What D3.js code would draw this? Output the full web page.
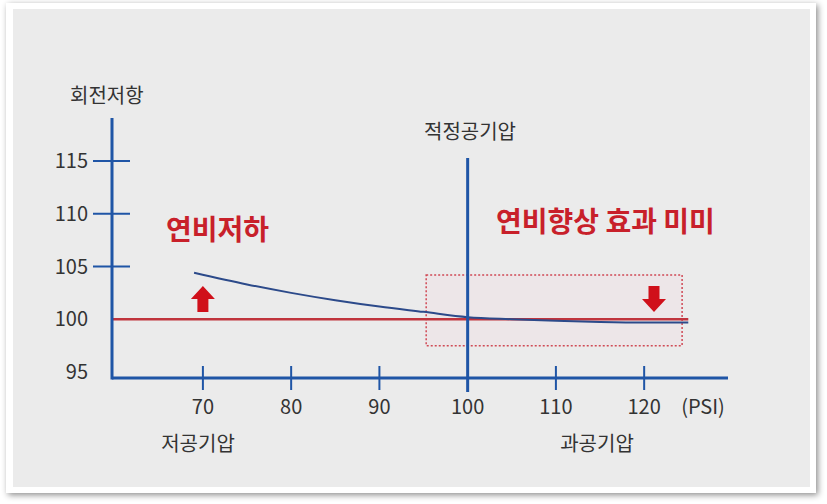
<!DOCTYPE html>
<html><head><meta charset="utf-8">
<script src="https://cdn.jsdelivr.net/npm/d3@7"></script>
<style>body{margin:0;background:#fff}svg{font-family:"Noto Sans CJK KR","Noto Sans",sans-serif}</style>
</head><body><svg></svg>
<script>
const yTicks = [95, 100, 105, 110, 115];
const xTicks = [70, 80, 90, 100, 110, 120];
const curveX = [69, 75, 80, 85, 90, 95, 100, 105, 110, 115, 120, 125];
const curveY = [104.4, 103.3, 102.5, 101.8, 101.2, 100.7, 100.2, 100.0, 99.85, 99.75, 99.7, 99.7];
const baseline = 100;
const optimal = 100;

const width = 827, height = 504;
const svg = d3.select("svg").attr("width", width).attr("height", height);
const blue = "#1f55a6", red = "#c8202a";

const defs = svg.append("defs");
const f = defs.append("filter").attr("id", "sh").attr("x", "-5%").attr("y", "-5%").attr("width", "110%").attr("height", "110%");
f.append("feDropShadow").attr("dx", 2).attr("dy", 2).attr("stdDeviation", 3).attr("flood-color", "#000").attr("flood-opacity", 0.45);
svg.append("rect").attr("x", 6).attr("y", 3).attr("width", 810).attr("height", 490).attr("fill", "#fff").attr("filter", "url(#sh)");
svg.append("rect").attr("x", 13).attr("y", 9).attr("width", 797).attr("height", 478).attr("fill", "#ebebeb");

const x = d3.scaleLinear().domain([59.7, 129.5]).range([112, 728]);
const y = d3.scaleLinear().domain([95, 115]).range([372, 161]);
const axisY = 378;

// highlight box
svg.append("rect").attr("x", x(95.3)).attr("y", y(104.2)).attr("width", x(124.3) - x(95.3)).attr("height", y(97.5) - y(104.2))
  .attr("fill", "#ede6e8").attr("stroke", "#d04a55").attr("stroke-width", 1.5).attr("stroke-dasharray", "2,2");

// y ticks
svg.selectAll(".yt").data(yTicks.filter(d => d !== 95 && d !== 100)).enter().append("line")
  .attr("x1", 93).attr("x2", 130).attr("y1", d => y(d)).attr("y2", d => y(d)).attr("stroke", blue).attr("stroke-width", 2);
svg.selectAll(".yl").data(yTicks).enter().append("text")
  .attr("x", 88).attr("y", d => y(d)).attr("dy", "0.35em").attr("text-anchor", "end")
  .attr("font-size", 20).attr("fill", "#333").text(d => d);

// x ticks
svg.selectAll(".xt").data(xTicks.filter(d => d !== optimal)).enter().append("line")
  .attr("x1", d => x(d)).attr("x2", d => x(d)).attr("y1", 366).attr("y2", 390).attr("stroke", blue).attr("stroke-width", 2);
svg.selectAll(".xl").data(xTicks).enter().append("text")
  .attr("x", d => x(d)).attr("y", 414).attr("text-anchor", "middle")
  .attr("font-size", 20).attr("fill", "#333").text(d => d);
svg.append("text").attr("x", 703).attr("y", 414).attr("text-anchor", "middle").attr("font-size", 20).attr("fill", "#333").text("(PSI)");

// baseline
svg.append("line").attr("x1", 112).attr("x2", x(125)).attr("y1", y(baseline)).attr("y2", y(baseline)).attr("stroke", "#c0343d").attr("stroke-width", 2.5);

// curve
svg.append("path").datum(curveX.map((d, i) => [d, curveY[i]]))
  .attr("d", d3.line().x(d => x(d[0])).y(d => y(d[1])).curve(d3.curveMonotoneX))
  .attr("fill", "none").attr("stroke", "#2c4a8a").attr("stroke-width", 2);

// axes
svg.append("line").attr("x1", 112).attr("x2", 112).attr("y1", 118).attr("y2", axisY + 1.5).attr("stroke", blue).attr("stroke-width", 3);
svg.append("line").attr("x1", 112).attr("x2", 728).attr("y1", axisY).attr("y2", axisY).attr("stroke", blue).attr("stroke-width", 3);
svg.append("line").attr("x1", x(optimal)).attr("x2", x(optimal)).attr("y1", 158).attr("y2", 392).attr("stroke", blue).attr("stroke-width", 3);

// arrows
const arrow = (cx, top, dir) => {
  const h = 26, w = 24, sw = 11, head = 13;
  const pts = [[0, 0], [w / 2, head], [sw / 2, head], [sw / 2, h], [-sw / 2, h], [-sw / 2, head], [-w / 2, head]];
  svg.append("polygon").attr("fill", "#d0101a")
    .attr("points", pts.map(p => [cx + p[0], dir > 0 ? top + p[1] : top + h - p[1]].join(",")).join(" "));
};
arrow(x(70), 286, 1);
arrow(654, 286, -1);

// texts
const t = (tx, ty, s, size, col, wt, anchor) => svg.append("text").attr("x", tx).attr("y", ty).attr("font-size", size)
  .attr("fill", col).attr("font-weight", wt).attr("text-anchor", anchor || "start").text(s);
t(70, 103, "회전저항", 20, "#333", 400);
t(470, 139, "적정공기압", 20, "#333", 400, "middle");
t(166, 240, "연비저하", 28, "#c8202a", 700);
t(496, 232, "연비향상 효과 미미", 28, "#c8202a", 700);
t(198, 451, "저공기압", 20, "#333", 400, "middle");
t(597, 451, "과공기압", 20, "#333", 400, "middle");
</script></body></html>
